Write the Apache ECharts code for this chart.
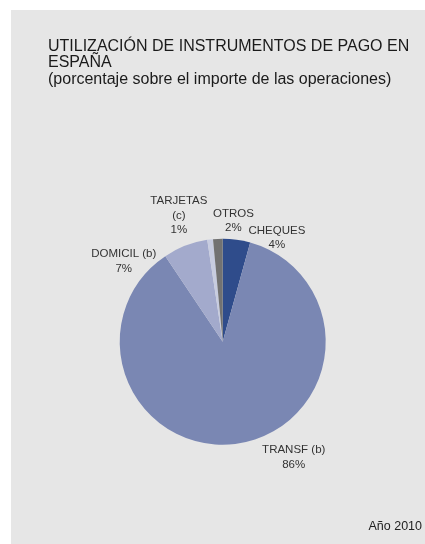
<!DOCTYPE html>
<html>
<head>
<meta charset="utf-8">
<script src="https://cdn.jsdelivr.net/npm/echarts@6/dist/echarts.min.js"></script>
<style>
html,body{margin:0;padding:0;background:#fff;}
#chart{width:425px;height:544px;}
</style>
</head>
<body>
<div id="chart"></div>
<script>
const categories = ['CHEQUES', 'TRANSF (b)', 'DOMICIL (b)', 'TARJETAS\n(c)', 'OTROS'];
const values = [4.3, 86.3, 7.0, 0.9, 1.5];
const colors = ['#2f4c8b', '#7a87b3', '#a3aacc', '#c7cce0', '#727272'];
const titleText = 'UTILIZACIÓN DE INSTRUMENTOS DE PAGO EN\nESPAÑA\n(porcentaje sobre el importe de las operaciones)';
const footText = 'Año 2010';

const labelNudge = [[34, 8], [48, 4], [-53, 25], [-25, -14], [21, -8]];
const FONT = '"Liberation Sans", Arial, Helvetica, sans-serif';

const chart = echarts.init(document.getElementById('chart'), null, {renderer: 'canvas'});
chart.setOption({
  animation: false,
  backgroundColor: '#ffffff',
  graphic: [{
    type: 'rect', z: -10,
    shape: {x: 11, y: 10, width: 420, height: 540},
    style: {fill: '#e6e6e6'}
  }],
  title: [{
    text: titleText,
    left: 48, top: 38, padding: 0,
    textStyle: {fontFamily: FONT, fontSize: 16, fontWeight: 'normal', color: '#1a1a1a', lineHeight: 16.5}
  }, {
    text: footText,
    right: 3, bottom: 10.5, padding: 0,
    textStyle: {fontFamily: FONT, fontSize: 12.5, fontWeight: 'normal', color: '#222'}
  }],
  series: [{
    type: 'pie',
    center: [222.7, 341.7],
    radius: 103,
    startAngle: 90,
    clockwise: true,
    avoidLabelOverlap: false,
    data: categories.map((c, i) => ({name: c, value: values[i], itemStyle: {color: colors[i]}})),
    label: {
      show: true,
      position: 'outside',
      fontFamily: FONT,
      fontSize: 11.5,
      color: '#333',
      lineHeight: 14.5,
      formatter: p => p.name + '\n' + Math.round(p.percent) + '%'
    },
    labelLine: {show: false, length: 10, length2: 0},
    labelLayout: function (params) {
      const n = labelNudge[params.dataIndex];
      return {align: 'center', verticalAlign: 'middle', dx: n[0], dy: n[1]};
    }
  }]
});
</script>
</body>
</html>
